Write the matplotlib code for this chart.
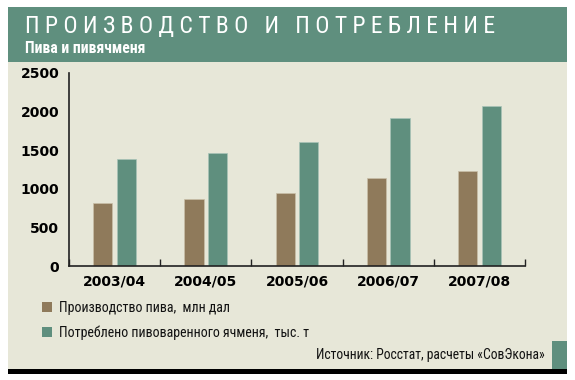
import matplotlib
matplotlib.use("Agg")
import matplotlib.pyplot as plt
from matplotlib.patches import Rectangle
import numpy as np

categories = ["2003/04", "2004/05", "2005/06", "2006/07", "2007/08"]
production = [810, 870, 945, 1135, 1225]
barley = [1380, 1460, 1600, 1920, 2075]
yticks = [0, 500, 1000, 1500, 2000, 2500]
series_names = ["Производство пива,  млн дал", "Потреблено пивоваренного ячменя,  тыс. т"]
title = "ПРОИЗВОДСТВО И ПОТРЕБЛЕНИЕ"
subtitle = "Пива и пивячменя"
source = "Источник: Росстат, расчеты «СовЭкона»"

GREEN = "#5f8f7e"
BROWN = "#8f7a5b"
BEIGE = "#e7e7d8"
NARROW = ["Roboto Condensed", "Liberation Sans Narrow", "Liberation Sans", "DejaVu Sans"]

W, H = 575, 380
fig = plt.figure(figsize=(W / 100, H / 100), dpi=100)
fig.patch.set_facecolor("white")

def fx(px):
    return px / W

def fy(py):
    return 1 - py / H

def rect(x0, y0, x1, y1, color, z):
    fig.patches.append(Rectangle((fx(x0), fy(y1)), fx(x1) - fx(x0), fy(y0) - fy(y1),
                                 transform=fig.transFigure, facecolor=color,
                                 edgecolor="none", zorder=z))

rect(8, 61, 567, 369, BEIGE, -3)
rect(8, 7, 567, 62, GREEN, -2)
rect(8, 369, 567, 374, "black", -2)
rect(552, 341, 567, 369, GREEN, -2)

spaced_title = "   ".join(" ".join(w) for w in title.split(" "))
fig.text(fx(25), fy(33), spaced_title, color="white", fontsize=17, family=NARROW,
         ha="left", va="baseline")
fig.text(fx(25), fy(53), subtitle, color="white", fontsize=11.3, family=NARROW,
         weight="bold", ha="left", va="baseline")

ax = fig.add_axes([fx(69), fy(266), fx(525) - fx(69), fy(73) - fy(266)])
ax.set_zorder(3)
ax.set_facecolor("none")
x = np.arange(len(categories))
bw = 0.21
off = 0.13
ax.bar(x - off, production, bw, color=BROWN, edgecolor="#c9bfa8", linewidth=0.5, zorder=2)
ax.bar(x + off, barley, bw, color=GREEN, edgecolor="#a9c4b8", linewidth=0.5, zorder=2)

ax.set_xlim(-0.5, len(categories) - 0.5)
ax.set_ylim(0, 2500)
ax.set_yticks(yticks)
ax.set_yticklabels([str(v) for v in yticks], fontsize=10, weight="bold", family="DejaVu Sans")
ax.set_xticks(x)
ax.set_xticklabels(categories, fontsize=10, weight="bold", family="DejaVu Sans")
ax.set_xticks(np.arange(len(categories) + 1) - 0.5, minor=True)
ax.tick_params(axis="x", which="major", length=0, pad=6)
ax.tick_params(axis="x", which="minor", direction="in", length=5, width=1, color="#222222")
ax.tick_params(axis="y", length=0, pad=7)
for s in ["top", "right"]:
    ax.spines[s].set_visible(False)
for s in ["left", "bottom"]:
    ax.spines[s].set_color("#222222")
    ax.spines[s].set_linewidth(1.2)

for i, (name, col) in enumerate(zip(series_names, [BROWN, GREEN])):
    ytop = 302 + i * 25
    rect(42, ytop, 52, ytop + 10, col, 2)
    fig.text(fx(59), fy(ytop + 6), name, fontsize=10, family=NARROW, color="#111111",
             ha="left", va="center")

fig.text(fx(545), fy(355), source, fontsize=9.8, family=NARROW, color="#111111",
         ha="right", va="center")

fig.savefig("out.png", dpi=100)
